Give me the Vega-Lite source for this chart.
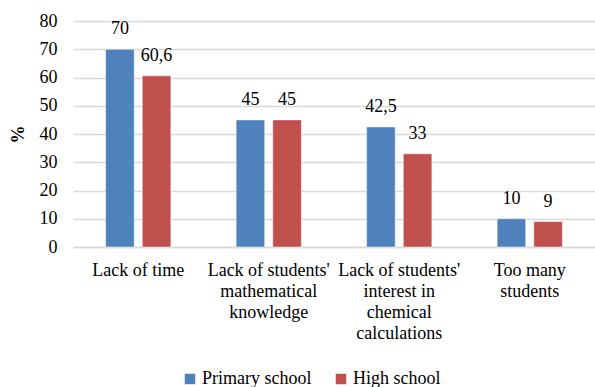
{
  "$schema": "https://vega.github.io/schema/vega-lite/v6.json",
  "autosize": {"type": "none"},
  "width": 522,
  "height": 226,
  "padding": {"left": 73, "top": 21, "right": 0, "bottom": 140},
  "background": "white",
  "config": {
    "font": "Liberation Serif",
    "view": {"stroke": null},
    "locale": {"number": {"decimal": ",", "thousands": ".", "grouping": [3], "currency": ["", ""]}}
  },
  "data": {
    "values": [
      {"reason": "Lack of time", "school": "Primary school", "pct": 70},
      {"reason": "Lack of time", "school": "High school", "pct": 60.6},
      {"reason": "Lack of students'\nmathematical\nknowledge", "school": "Primary school", "pct": 45},
      {"reason": "Lack of students'\nmathematical\nknowledge", "school": "High school", "pct": 45},
      {"reason": "Lack of students'\ninterest in\nchemical\ncalculations", "school": "Primary school", "pct": 42.5},
      {"reason": "Lack of students'\ninterest in\nchemical\ncalculations", "school": "High school", "pct": 33},
      {"reason": "Too many\nstudents", "school": "Primary school", "pct": 10},
      {"reason": "Too many\nstudents", "school": "High school", "pct": 9}
    ]
  },
  "encoding": {
    "x": {
      "field": "reason", "type": "nominal", "sort": null,
      "scale": {"paddingInner": 0.5, "paddingOuter": 0.25},
      "axis": {
        "title": null, "labelAngle": 0, "ticks": false,
        "labelExpr": "split(datum.label, '\\n')",
        "labelFontSize": 18, "labelColor": "#000000", "labelLineHeight": 21,
        "labelPadding": 14, "labelLimit": 0,
        "domainColor": "#d9d9d9", "domainWidth": 1.5, "grid": false
      }
    },
    "xOffset": {
      "field": "school", "type": "nominal", "sort": ["Primary school", "High school"],
      "scale": {"paddingInner": 0.22, "paddingOuter": 0}
    },
    "y": {
      "field": "pct", "type": "quantitative",
      "scale": {"domain": [0, 80]},
      "axis": {
        "title": "%", "titleFontSize": 18, "titleFontWeight": "bold", "titleColor": "#000000",
        "titleAngle": -90, "titleX": -46, "titleY": 113,
        "values": [0, 10, 20, 30, 40, 50, 60, 70, 80],
        "labelFontSize": 18, "labelColor": "#000000", "labelPadding": 16,
        "ticks": false, "domain": false,
        "grid": true, "gridColor": "#d9d9d9", "gridWidth": 1.5
      }
    }
  },
  "layer": [
    {
      "mark": {"type": "bar", "stroke": "white", "strokeWidth": 0.5},
      "encoding": {
        "color": {
          "field": "school", "type": "nominal",
          "scale": {"domain": ["Primary school", "High school"], "range": ["#4f81bd", "#c0504d"]},
          "legend": {
            "title": null, "orient": "none", "direction": "horizontal",
            "legendX": 108, "legendY": 349,
            "symbolType": "square", "symbolSize": 110, "symbolStrokeWidth": 0,
            "labelFontSize": 18, "labelColor": "#000000", "labelOffset": 3,
            "columnPadding": 20
          }
        }
      }
    },
    {
      "mark": {"type": "text", "baseline": "middle", "dy": -20, "fontSize": 18, "color": "#000000"},
      "encoding": {
        "text": {"field": "pct", "type": "quantitative", "format": ".3~g"}
      }
    }
  ]
}
